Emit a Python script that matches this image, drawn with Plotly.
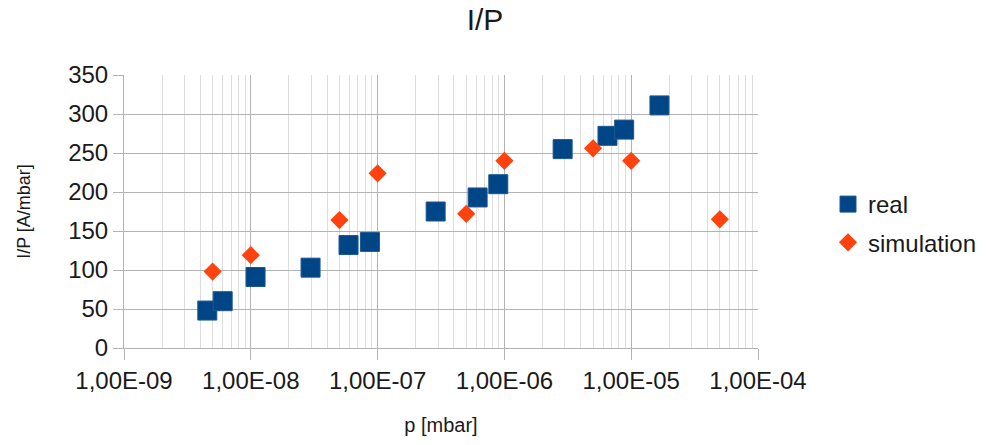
import plotly.graph_objects as go

# Measured I/P versus pressure
real_p = [4.54e-9, 6.0e-9, 1.09e-8, 2.96e-8, 5.9e-8, 8.7e-8, 2.87e-7, 6.15e-7,
          8.95e-7, 2.88e-6, 6.5e-6, 8.8e-6, 1.67e-5]
real_ip = [48, 60, 91, 103, 132, 136, 175, 193, 210, 255, 272, 280, 311]

# Simulated I/P versus pressure
sim_p = [5e-9, 1e-8, 5e-8, 1e-7, 5e-7, 1e-6, 5e-6, 1e-5, 5e-5]
sim_ip = [98, 119, 164, 224, 172, 240, 256, 240, 165]

x_tickvals = [1e-9, 1e-8, 1e-7, 1e-6, 1e-5, 1e-4]
x_ticktext = ["1,00E-09", "1,00E-08", "1,00E-07", "1,00E-06", "1,00E-05", "1,00E-04"]
y_tickvals = [0, 50, 100, 150, 200, 250, 300, 350]

minor_vals = [k * 10.0 ** e for e in range(-9, -4) for k in range(2, 10)]

FONT = "Liberation Sans, Arial, sans-serif"
TXT = "#1a1a1a"

fig = go.Figure()
fig.add_trace(go.Scatter(
    x=real_p, y=real_ip, mode="markers", name="real", legendgroup="a",
    marker=dict(symbol="square", size=19, color="#004586",
                line=dict(width=1, color="#1d5690")),
))
fig.add_trace(go.Scatter(
    x=sim_p, y=sim_ip, mode="markers", name="simulation", legendgroup="b",
    marker=dict(symbol="diamond", size=14, color="#ff420e", line=dict(width=0)),
))

fig.update_layout(
    width=986, height=445,
    margin=dict(l=124, r=228, t=75, b=97),
    paper_bgcolor="white", plot_bgcolor="white",
    font=dict(family=FONT, color=TXT),
    title=dict(text="I/P", x=485 / 986, xanchor="center", xref="container",
               y=1 - 19 / 445, yanchor="middle", yref="container",
               font=dict(size=30, color=TXT, family=FONT)),
    legend=dict(xref="container", yref="container", x=828 / 986, xanchor="left",
                y=1 - 182 / 445, yanchor="top", font=dict(size=24, color=TXT),
                traceorder="grouped", tracegroupgap=4, bgcolor="rgba(0,0,0,0)"),
    showlegend=True,
)

fig.update_xaxes(
    type="log", range=[-9, -4],
    tickmode="array", tickvals=x_tickvals, ticktext=x_ticktext,
    tickfont=dict(size=24, color=TXT, family=FONT),
    ticks="outside", ticklen=11, tickcolor="#b3b3b3",
    showgrid=True, gridcolor="#b3b3b3", gridwidth=1,
    minor=dict(tickmode="array", tickvals=minor_vals, showgrid=True,
               gridcolor="#dddddd", gridwidth=1, ticks=""),
    showline=True, linecolor="#b3b3b3", linewidth=1,
    zeroline=False,
    title=dict(text="p [mbar]", font=dict(size=20, color=TXT, family=FONT), standoff=25),
)
fig.update_yaxes(
    range=[0, 350], tickmode="array", tickvals=y_tickvals,
    tickfont=dict(size=24, color=TXT, family=FONT),
    ticks="outside", ticklen=10, tickcolor="#b3b3b3",
    showgrid=True, gridcolor="#b3b3b3", gridwidth=1,
    showline=True, linecolor="#b3b3b3", linewidth=1,
    zeroline=False,
    title=dict(text="I/P [A/mbar]", font=dict(size=18, color=TXT, family=FONT), standoff=32),
)

fig.write_html("out.html")
